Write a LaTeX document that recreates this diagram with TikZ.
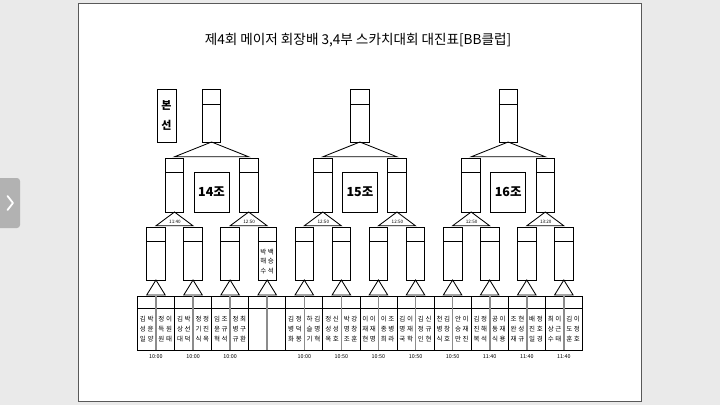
\documentclass[tikz,border=0pt]{standalone}
\usepackage{fontspec}
\usetikzlibrary{calc}
\setmainfont{Noto Sans CJK KR}
\definecolor{bgc}{RGB}{234,234,234}
\definecolor{tabc}{RGB}{178,178,178}
\definecolor{divc}{RGB}{140,140,140}
\newcommand\pr[2]{#1\hspace{1.6pt}#2}
\newcommand\nmtxt[6]{\pr{#1}{#2}\\\pr{#3}{#4}\\\pr{#5}{#6}}
\begin{document}
\begin{tikzpicture}[x=1pt,y=-1pt,
  bx/.style={draw=black,line width=0.75pt,fill=white,rectangle,inner sep=0pt,outer sep=0pt,minimum width=18.6pt},
  hA/.style={minimum height=53pt},
  hB/.style={minimum height=54pt},
  ln/.style={line width=0.85pt,line join=miter},
  tm/.style={font=\fontsize{4.6}{5}\selectfont,inner sep=0pt},
  bt/.style={font=\fontsize{5.4}{6}\selectfont,inner sep=0pt},
  nm/.style={font=\fontsize{6.5}{9.8}\selectfont,inner sep=0pt,align=center},
  lab/.style={bx,minimum width=35pt,minimum height=40pt,font=\fontsize{12.5}{13}\selectfont\bfseries}
]
\fill[bgc] (0,0) rectangle (720,405);
\useasboundingbox (0,0) rectangle (720,405);
% side tab
\fill[tabc,rounded corners=3pt] (-6,178) rectangle (20,228);
\draw[white,line width=1.8pt,line cap=round,line join=round] (7.5,196) -- (13,203) -- (7.5,210);
% page
\node[draw=gray!70!black,line width=0.6pt,fill=white,anchor=north west,minimum width=563pt,minimum height=398pt,inner sep=0pt] (page) at (78,3) {};
% title
\node[font=\fontsize{13.6}{15}\selectfont,inner sep=0pt] (title) at (358,40) {제4회 메이저 회장배 3,4부 스카치대회 대진표[BB클럽]};
% bonseon
\node[bx,minimum width=19pt,minimum height=53pt,align=center,font=\fontsize{11}{20}\selectfont\bfseries] (bonseon) at (166.5,115.5) {본\\선};
% third level and bottom
\foreach \i in {0,...,11}{
  \pgfmathsetmacro\c{155.95+37.08*\i}
  \node[bx,hA] (th\i) at (\c,253.5) {};
  \draw[line width=0.75pt] ([yshift=-14pt]th\i.north west) -- ([yshift=-14pt]th\i.north east);
  \node[bx,hB] (bl\i) at (\c-9.25,323) {};
  \node[bx,hB] (br\i) at (\c+9.25,323) {};
  \draw[line width=0.75pt] ([yshift=-12pt]bl\i.north west) -- ([yshift=-12pt]br\i.north east);
  \draw[divc,line width=1.6pt] (bl\i.north east) -- (bl\i.south east);
  \draw[ln] (th\i.south) -- ([yshift=1pt]bl\i.north) -- ([yshift=1pt]br\i.north) -- cycle;
}
% second level
\foreach \j/\t in {0/11:40,1/12:50,2/12:50,3/12:50,4/12:50,5/13:20}{
  \pgfmathsetmacro\c{155.95+37.08*(2*\j+0.5)}
  \pgfmathtruncatemacro\a{2*\j}
  \pgfmathtruncatemacro\b{2*\j+1}
  \node[bx,hB] (se\j) at (\c,185) {};
  \draw[line width=0.75pt] ([yshift=-14pt]se\j.north west) -- ([yshift=-14pt]se\j.north east);
  \draw[ln] (se\j.south) -- ([yshift=1.2pt]th\a.north) -- ([yshift=1.2pt]th\b.north) -- cycle;
  \node[tm] (tt\j) at (\c+0.5,221.5) {\t};
}
% top level
\foreach \g/\n in {0/14,1/15,2/16}{
  \pgfmathsetmacro\c{155.95+37.08*(4*\g+1.5)}
  \pgfmathtruncatemacro\a{2*\g}
  \pgfmathtruncatemacro\b{2*\g+1}
  \node[bx,hA] (top\g) at (\c,115.5) {};
  \draw[line width=0.75pt] ([yshift=-15pt]top\g.north west) -- ([yshift=-15pt]top\g.north east);
  \draw[ln] (top\g.south) -- ([yshift=1.2pt]se\a.north) -- ([yshift=1.2pt]se\b.north) -- cycle;
  \node[lab] (lab\g) at (\c,192) {{\n}조};
}
% bottom times
\foreach \i/\t in {0/10:00,1/10:00,2/10:00,4/10:00,5/10:50,6/10:50,7/10:50,8/10:50,9/11:40,10/11:40,11/11:40}{
  \node[bt] (bt\i) at ($(bl\i.south)!0.5!(br\i.south)+(0,7)$) {\t};
}
% names in third-level box
\node[nm] (th3n) at ([yshift=-8pt]th3.center) {\nmtxt 박백해승수석};
% names in bottom boxes
\node[nm] at ([yshift=-6pt]bl0.center) {\nmtxt 김박성윤일양};
\node[nm] at ([yshift=-6pt]br0.center) {\nmtxt 정이득원원태};
\node[nm] at ([yshift=-6pt]bl1.center) {\nmtxt 김박상선대덕};
\node[nm] at ([yshift=-6pt]br1.center) {\nmtxt 정정기진식옥};
\node[nm] at ([yshift=-6pt]bl2.center) {\nmtxt 임조윤규혁석};
\node[nm] at ([yshift=-6pt]br2.center) {\nmtxt 정최병구규환};
\node[nm] at ([yshift=-6pt]bl4.center) {\nmtxt 김정병덕화봉};
\node[nm] at ([yshift=-6pt]br4.center) {\nmtxt 하김슬명기혁};
\node[nm] at ([yshift=-6pt]bl5.center) {\nmtxt 정신성성옥호};
\node[nm] at ([yshift=-6pt]br5.center) {\nmtxt 박강명창조훈};
\node[nm] at ([yshift=-6pt]bl6.center) {\nmtxt 이이재재현명};
\node[nm] at ([yshift=-6pt]br6.center) {\nmtxt 이조종병희라};
\node[nm] at ([yshift=-6pt]bl7.center) {\nmtxt 김이명재국학};
\node[nm] at ([yshift=-6pt]br7.center) {\nmtxt 김신정규인현};
\node[nm] at ([yshift=-6pt]bl8.center) {\nmtxt 천김병창식호};
\node[nm] at ([yshift=-6pt]br8.center) {\nmtxt 안이승재만진};
\node[nm] at ([yshift=-6pt]bl9.center) {\nmtxt 김정진해복석};
\node[nm] at ([yshift=-6pt]br9.center) {\nmtxt 공이동재식용};
\node[nm] at ([yshift=-6pt]bl10.center) {\nmtxt 조현완성재규};
\node[nm] at ([yshift=-6pt]br10.center) {\nmtxt 배정진호일경};
\node[nm] at ([yshift=-6pt]bl11.center) {\nmtxt 최이상근수태};
\node[nm] at ([yshift=-6pt]br11.center) {\nmtxt 김이도정훈호};
\end{tikzpicture}
\end{document}
